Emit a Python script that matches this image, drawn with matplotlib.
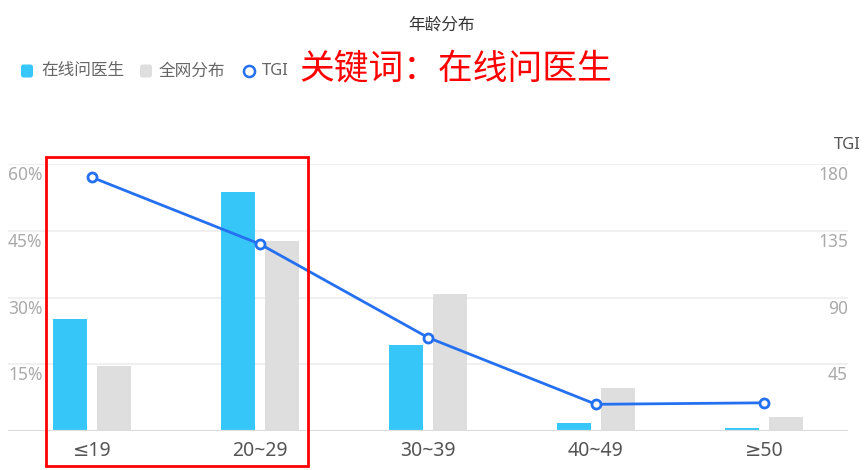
import matplotlib
matplotlib.use("Agg")
import matplotlib.pyplot as plt
from matplotlib.patches import FancyBboxPatch, Rectangle
from matplotlib.lines import Line2D
from matplotlib.transforms import IdentityTransform, offset_copy
import numpy as np

plt.rcParams['font.family'] = ['Noto Sans CJK SC', 'DejaVu Sans']

# ---- data ----
categories = ['≤19', '20~29', '30~39', '40~49', '≥50']
online_doctor = [25.2, 53.6, 19.3, 1.9, 0.7]   # 在线问医生 (%)
whole_net = [14.7, 42.6, 30.8, 9.6, 3.1]       # 全网分布 (%)
tgi = [171, 126, 63, 18, 19]                   # TGI
left_ticks = [15, 30, 45, 60]
left_labels = ['15%', '30%', '45%', '60%']
right_ticks = [45, 90, 135, 180]
right_labels = ['45', '90', '135', '180']
series_names = ['在线问医生', '全网分布', 'TGI']
title = '年龄分布'
keyword = '关键词：在线问医生'

BLUE = '#36c6f8'
GRAY = '#dedede'
LINE = '#2470f0'
LATIN = ['Noto Sans', 'DejaVu Sans']

W, H = 864, 470
fig = plt.figure(figsize=(W / 100, H / 100), dpi=100)

def fx(px):
    return px / W

def fy(py):
    return 1 - py / H

left_px, right_px, top_px, bot_px = 8, 848, 164, 431
ax = fig.add_axes([fx(left_px), fy(bot_px), fx(right_px - left_px), (bot_px - top_px) / H])
ax2 = ax.twinx()

x = np.arange(len(categories))
bw = 0.2
off = 0.13
ax.bar(x - off, online_doctor, width=bw, color=BLUE, zorder=3)
ax.bar(x + off, whole_net, width=bw, color=GRAY, zorder=3)
ax.set_xlim(-0.5, len(categories) - 0.5)
ax.set_ylim(0, 60)
ax2.set_ylim(0, 180)

# gridlines
for t in left_ticks:
    ax.axhline(t, color='#eeeeee', lw=1.2, zorder=1)
ax.axhline(0, color='#dddddd', lw=1.6, zorder=4)

for s in ['top', 'right', 'left', 'bottom']:
    ax.spines[s].set_visible(False)
    ax2.spines[s].set_visible(False)

ax.set_xticks(x)
ax.set_xticklabels(categories, fontsize=14, color='#555555', family=LATIN)
ax.tick_params(axis='x', length=0, pad=7)

# left y tick labels inside, under gridlines
ax.set_yticks(left_ticks)
ax.set_yticklabels(left_labels, fontsize=12.5, color='#aaaaaa', family=LATIN)
ax.tick_params(axis='y', length=0, pad=0)
for lab in ax.get_yticklabels():
    lab.set_horizontalalignment('left')
    lab.set_verticalalignment('top')

ax2.set_yticks(right_ticks)
ax2.set_yticklabels(right_labels, fontsize=12.5, color='#aaaaaa', family=LATIN)
ax2.tick_params(axis='y', length=0, pad=0)
for lab in ax2.get_yticklabels():
    lab.set_horizontalalignment('right')
    lab.set_verticalalignment('top')

for lab in ax.get_yticklabels():
    lab.set_transform(offset_copy(lab.get_transform(), fig=fig, x=0, y=-2, units='dots'))
for lab in ax2.get_yticklabels():
    lab.set_transform(offset_copy(lab.get_transform(), fig=fig, x=0, y=-2, units='dots'))

ax2.plot(x, tgi, color=LINE, lw=2, marker='o', markersize=6.5,
         markerfacecolor='white', markeredgecolor=LINE, markeredgewidth=2, zorder=5)

# axis name
fig.text(fx(847), fy(145), 'TGI', ha='center', va='center', fontsize=12, color='#555555', family=LATIN)

# title
fig.text(fx(441), fy(25), title, ha='center', va='center', fontsize=12, color='#333333')

# legend (manual)
ly = 71
fig.add_artist(FancyBboxPatch((21, H - ly - 6.5), 12, 13, boxstyle='round,pad=0,rounding_size=2.5',
                              transform=IdentityTransform(), facecolor=BLUE, edgecolor='none'))
fig.text(fx(41), fy(ly), series_names[0], ha='left', va='center', fontsize=12, color='#666666')
fig.add_artist(FancyBboxPatch((140, H - ly - 6.5), 12, 13, boxstyle='round,pad=0,rounding_size=2.5',
                              transform=IdentityTransform(), facecolor=GRAY, edgecolor='none'))
fig.text(fx(159), fy(ly), series_names[1], ha='left', va='center', fontsize=12, color='#666666')
fig.add_artist(Line2D([fx(249)], [fy(ly)], transform=fig.transFigure, marker='o', markersize=8,
                      markerfacecolor='white', markeredgecolor=LINE, markeredgewidth=1.8, linestyle='none'))
fig.text(fx(262), fy(ly), series_names[2], ha='left', va='center', fontsize=12, color='#666666',
         family=LATIN)

# red keyword annotation
fig.text(fx(299), fy(70), keyword, ha='left', va='center', fontsize=25, color='#ff0000')

# red highlight box
fig.add_artist(Rectangle((46, H - 466), 262, 309, transform=IdentityTransform(),
                         fill=False, edgecolor='#ff0000', lw=2))

fig.savefig('out.png', dpi=100)
